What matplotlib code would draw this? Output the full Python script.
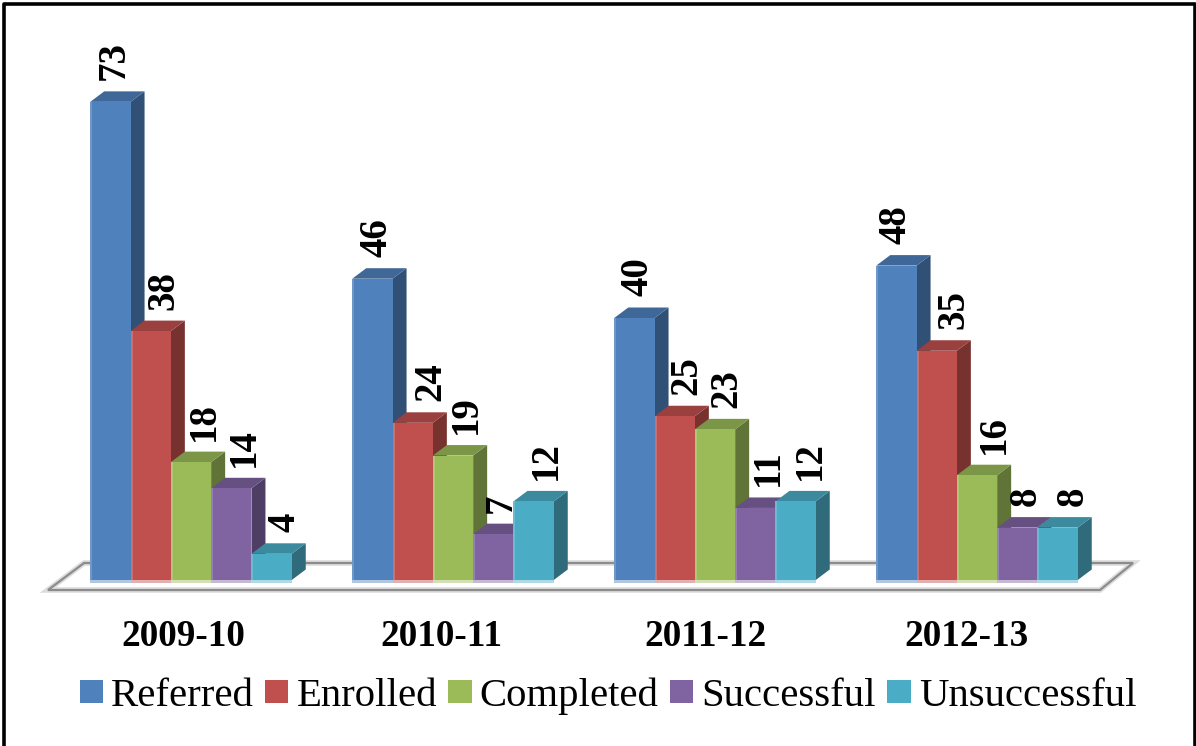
import matplotlib
matplotlib.use('Agg')
import matplotlib.pyplot as plt
from matplotlib.patches import Patch
from matplotlib.colors import to_rgb
import numpy as np

years = ['2009-10', '2010-11', '2011-12', '2012-13']
series = ['Referred', 'Enrolled', 'Completed', 'Successful', 'Unsuccessful']
referred = [73, 46, 40, 48]
enrolled = [38, 24, 25, 35]
completed = [18, 19, 23, 16]
successful = [14, 7, 11, 8]
unsuccessful = [4, 12, 12, 8]
colors = ['#4F81BD', '#C0504D', '#9BBB59', '#8064A2', '#4BACC6']

# sideways shift of each label from its bar centre, in pixels
nudge = [[4, 13, 13, 13, 13],
         [5, 18, 13, 8, 13],
         [4, 12, 12, 13, 15],
         [0, 17, 17, 9, 16]]

W, H = 1196, 746
px_x = 262.0   # pixels per group
px_y = 6.55    # pixels per unit
x0, y0 = 191.0, 580.0

plt.rcParams['font.family'] = ['Liberation Serif', 'DejaVu Serif']
fig = plt.figure(figsize=(W / 100, H / 100), dpi=100)
ax = fig.add_axes([0, 0, 1, 1])
ax.set_xlim(-x0 / px_x, (W - x0) / px_x)
ax.set_ylim(-(H - y0) / px_y, y0 / px_y)
ax.axis('off')

bar_w = 40.3 / px_x
dx = 14 / px_x
dy = 10.5 / px_y


def shade(c, f):
    return tuple(v * f for v in to_rgb(c))


def tint(c, f):
    return tuple(v + (1 - v) * f for v in to_rgb(c))


# floor
fx = np.array([48, 1100, 1133, 84])
fy = np.array([590, 590, 563, 563])
floor_x = (fx - x0) / px_x
floor_y = (y0 - fy) / px_y
ax.fill(floor_x, floor_y, fc='white', ec='#dcdcdc', lw=4, zorder=1)
ax.fill(floor_x, floor_y, fc='none', ec='#8c8c8c', lw=1.6, zorder=1.1)

all_values = [referred, enrolled, completed, successful, unsuccessful]
z = 2
for g in range(len(years)):
    for s in range(len(series)):
        v = all_values[s][g]
        c = colors[s]
        left = g + (s - 2.5) * bar_w
        right = left + bar_w
        # side and top faces
        ax.fill([right, right + dx, right + dx, right],
                [0, dy, v + dy, v], fc=shade(c, 0.62), ec='none', zorder=z)
        ax.fill([left, left + dx, right + dx, right],
                [v, v + dy, v + dy, v], fc=shade(c, 0.8), ec='none', zorder=z)
        # front face
        ax.bar(left, v, bar_w, align='edge', color=c, zorder=z + 0.1)
        ax.bar(left, v, 2 / px_x, align='edge', color=tint(c, 0.18), zorder=z + 0.2)
        ax.bar(left, -3 / px_y, bar_w, align='edge', color=tint(c, 0.55), zorder=z + 0.2)
        z += 1
        ax.text(left + bar_w / 2 + nudge[g][s] / px_x, v + dy + 11 / px_y, str(v),
                rotation=90, ha='center', va='bottom', fontsize=28,
                fontweight='bold', color='black', zorder=50)

cat_x = [183, 441, 705, 967]
for g, name in enumerate(years):
    ax.text((cat_x[g] - x0) / px_x, -(637 - y0) / px_y, name, ha='center', va='center',
            fontsize=26.8, fontweight='bold', color='black')

handles = [Patch(fc=colors[i], ec='none', label=series[i]) for i in range(len(series))]
ax.legend(handles=handles, ncol=5, loc='center', bbox_to_anchor=(608 / W, 1 - 696 / H),
          frameon=False, fontsize=29.3, handlelength=0.57, handleheight=0.5,
          handletextpad=0.2, columnspacing=0.28, borderpad=0, borderaxespad=0)

# outer border, open at the bottom
ax.plot([4 / W, 4 / W, 1194.5 / W, 1194.5 / W], [0, 1 - 3.5 / H, 1 - 3.5 / H, 0],
        transform=ax.transAxes, color='black', lw=2.6, clip_on=False, zorder=60)

fig.savefig('out.png', dpi=100)
